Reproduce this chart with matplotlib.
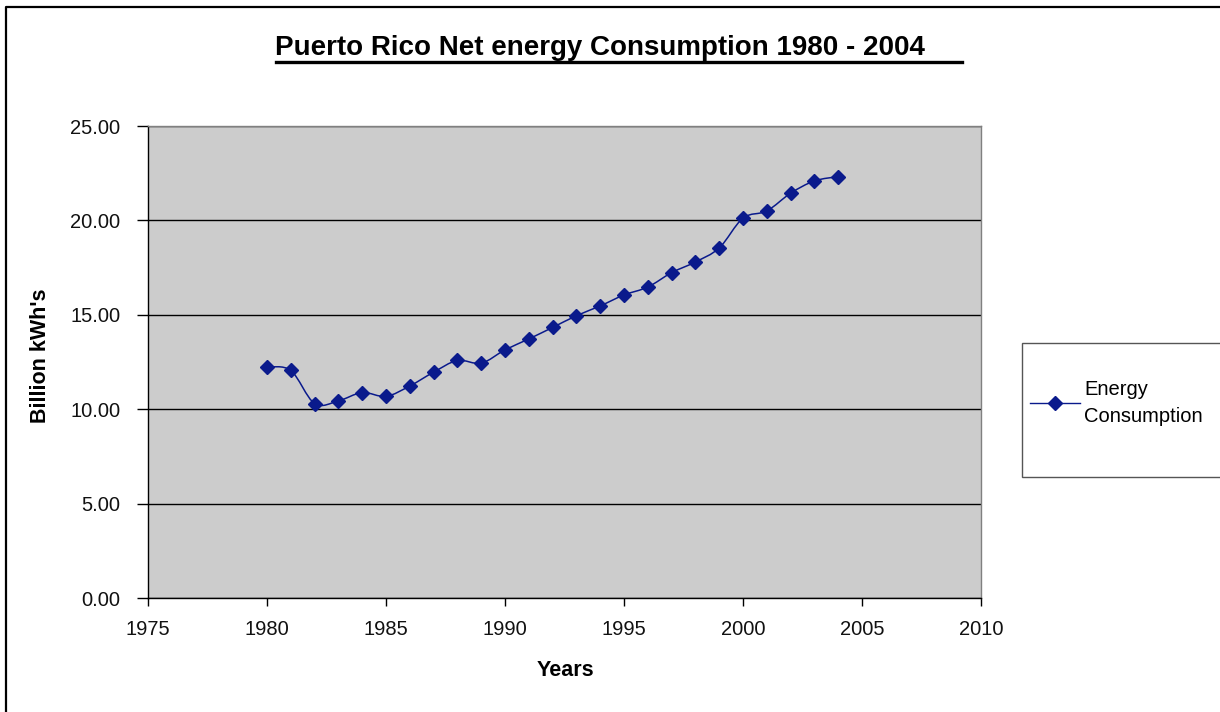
import matplotlib
matplotlib.use("Agg")
import matplotlib.pyplot as plt
from matplotlib.path import Path
from matplotlib.patches import PathPatch, Rectangle
from matplotlib.lines import Line2D
import numpy as np

plt.rcParams["font.family"] = ["Liberation Sans", "DejaVu Sans"]

# ── data ────────────────────────────────────────────────────────────────
years = [1980, 1981, 1982, 1983, 1984, 1985, 1986, 1987, 1988, 1989,
         1990, 1991, 1992, 1993, 1994, 1995, 1996, 1997, 1998, 1999,
         2000, 2001, 2002, 2003, 2004]
consumption = [12.23, 12.05, 10.30, 10.44, 10.88, 10.68, 11.23, 11.96, 12.58, 12.44,
               13.14, 13.72, 14.33, 14.95, 15.47, 16.05, 16.47, 17.23, 17.80, 18.54,
               20.12, 20.50, 21.44, 22.09, 22.32]

TITLE = "Puerto Rico Net energy Consumption 1980 - 2004"
SERIES = "Energy\nConsumption"
LINE_C = "#0A1A8C"
W, H = 1220, 712


def smooth_path(x, y):
    """Bezier path through the points, Excel-style smoothing."""
    x = np.asarray(x, float)
    y = np.asarray(y, float)
    n = len(x)
    verts = [(x[0], y[0])]
    codes = [Path.MOVETO]
    for i in range(n - 1):
        p0 = i - 1 if i > 0 else i
        p3 = i + 2 if i + 2 < n else i + 1
        c1 = (x[i] + (x[i + 1] - x[p0]) / 6, y[i] + (y[i + 1] - y[p0]) / 6)
        c2 = (x[i + 1] - (x[p3] - x[i]) / 6, y[i + 1] - (y[p3] - y[i]) / 6)
        verts += [c1, c2, (x[i + 1], y[i + 1])]
        codes += [Path.CURVE4] * 3
    return Path(verts, codes)


fig = plt.figure(figsize=(W / 100, H / 100), dpi=100, facecolor="white")
ax = fig.add_axes([148 / W, 1 - 598 / H, (981 - 148) / W, (598 - 126) / H])
ax.set_facecolor("#CCCCCC")

# smoothed line + diamond markers
ax.add_patch(PathPatch(smooth_path(years, consumption), facecolor="none",
                       edgecolor=LINE_C, linewidth=1.1, zorder=3))
ax.plot(years, consumption, linestyle="none", marker="D", markersize=7.5,
        color=LINE_C, zorder=4)

ax.set_xlim(1975, 2010)
ax.set_ylim(0, 25)
ax.set_xticks(np.arange(1975, 2011, 5))
ax.set_yticks(np.arange(0, 26, 5))
ax.set_yticklabels([f"{v:.2f}" for v in np.arange(0, 26, 5)])
ax.yaxis.grid(True, color="black", linewidth=1)
ax.set_axisbelow(True)

ax.tick_params(axis="both", direction="out", color="black", width=1,
               labelsize=14.5, labelcolor="#111111")
ax.tick_params(axis="x", length=6, pad=10)
ax.tick_params(axis="y", length=8, pad=12)

for s in ("left", "bottom"):
    ax.spines[s].set_color("black")
    ax.spines[s].set_linewidth(1)
for s in ("top", "right"):
    ax.spines[s].set_color("#808080")
    ax.spines[s].set_linewidth(1)

ax.set_ylabel("Billion kWh's", fontsize=15.5, fontweight="bold")
ax.set_xlabel("Years", fontsize=15.5, fontweight="bold")
ax.yaxis.set_label_coords(51 / W, 0.5, transform=fig.transFigure)
ax.xaxis.set_label_coords(565 / W, 1 - 660 / H, transform=fig.transFigure)

# title with underline
fig.text(600 / W, 1 - 48 / H, TITLE, ha="center", va="center",
         fontsize=20, fontweight="bold")
fig.add_artist(Line2D([276 / W, 962 / W], [1 - 62 / H, 1 - 62 / H],
                      color="black", linewidth=2.4))

# outer frame (top and left edges)
fig.add_artist(Line2D([6 / W, 6 / W, 1.0], [0.0, 1 - 7 / H, 1 - 7 / H],
                      color="black", linewidth=1.6))

# legend box
fig.add_artist(Rectangle((1022 / W, 1 - 477 / H), 230 / W, 134 / H,
                         transform=fig.transFigure, facecolor="white",
                         edgecolor="#555555", linewidth=1, zorder=-1))
leg = ax.legend([Line2D([], [], color=LINE_C, linewidth=1, marker="D",
                        markersize=7.5)], [SERIES],
                loc="center left", bbox_to_anchor=(1030 / W, 1 - 403 / H),
                bbox_transform=fig.transFigure, frameon=False, fontsize=14.5,
                handlelength=2.5, handletextpad=0.2, borderaxespad=0,
                borderpad=0)
for t in leg.get_texts():
    t.set_linespacing(1.55)

fig.savefig("out.png", dpi=100, facecolor="white")
